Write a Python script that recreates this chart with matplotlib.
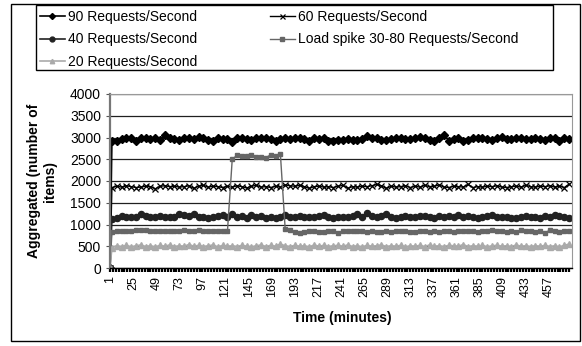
import matplotlib
matplotlib.use("Agg")
from matplotlib import pyplot as plt
from matplotlib.patches import Rectangle

plt.rcParams['font.family'] = ['Liberation Sans', 'DejaVu Sans']

# time in minutes for each sample
time_min = [1] + list(range(3, 481, 5))

req90 = [0,
         2920, 2930, 2960, 2980, 3000, 2930, 2990, 3000,
         2970, 3000, 2940, 3050, 2990, 2960, 2940, 2980,
         2990, 2970, 3020, 2980, 2940, 2920, 2990, 2970,
         2960, 2900, 3000, 2990, 2970, 2940, 2990, 3000,
         2990, 2960, 2930, 2960, 2990, 2970, 3000, 2980,
         2960, 2920, 2990, 2970, 3000, 2910, 2930, 2950,
         2940, 2960, 2950, 2950, 2970, 3030, 2990, 2980,
         2950, 2940, 2970, 2990, 2980, 2960, 2970, 2990,
         3010, 2990, 2950, 2930, 3000, 3060, 2930, 2960,
         2980, 2910, 2940, 2980, 2990, 3000, 2960, 2950,
         2990, 3010, 2960, 2970, 2990, 2980, 2960, 2960,
         2990, 2960, 2950, 3000, 2990, 2920, 2980, 2960]

req60 = [0,
         1850, 1880, 1860, 1890, 1870, 1850, 1860, 1880,
         1870, 1820, 1880, 1890, 1870, 1880, 1860, 1870,
         1890, 1830, 1880, 1900, 1860, 1880, 1870, 1850,
         1880, 1860, 1890, 1870, 1840, 1880, 1900, 1860,
         1870, 1850, 1880, 1860, 1910, 1890, 1880, 1900,
         1870, 1830, 1870, 1880, 1860, 1870, 1850, 1880,
         1900, 1830, 1870, 1860, 1880, 1870, 1890, 1920,
         1890, 1830, 1880, 1860, 1870, 1890, 1850, 1880,
         1860, 1900, 1870, 1880, 1910, 1860, 1850, 1880,
         1870, 1860, 1920, 1850, 1870, 1860, 1880, 1870,
         1890, 1860, 1850, 1870, 1880, 1860, 1900, 1870,
         1860, 1880, 1870, 1890, 1860, 1880, 1850, 1930]

req40 = [0,
         1130, 1150, 1200, 1170, 1170, 1170, 1250, 1200,
         1180, 1170, 1200, 1180, 1170, 1170, 1230, 1210,
         1200, 1240, 1180, 1170, 1160, 1180, 1190, 1210,
         1180, 1230, 1170, 1200, 1160, 1210, 1180, 1200,
         1150, 1180, 1160, 1180, 1220, 1170, 1180, 1200,
         1170, 1180, 1180, 1200, 1210, 1170, 1160, 1180,
         1170, 1180, 1200, 1230, 1180, 1260, 1190, 1180,
         1200, 1230, 1170, 1160, 1170, 1200, 1180, 1170,
         1190, 1200, 1180, 1160, 1200, 1170, 1190, 1180,
         1220, 1170, 1200, 1180, 1160, 1170, 1190, 1210,
         1180, 1170, 1180, 1160, 1150, 1170, 1200, 1180,
         1170, 1160, 1200, 1180, 1210, 1200, 1170, 1160]

spike = [0,
         820, 860, 850, 850, 860, 870, 870, 880,
         850, 850, 840, 840, 850, 860, 850, 870,
         860, 850, 870, 860, 860, 860, 860, 850,
         840, 2500, 2590, 2580, 2570, 2600, 2560, 2550,
         2540, 2600, 2570, 2630, 900, 880, 830, 810,
         820, 840, 850, 830, 820, 850, 840, 810,
         840, 860, 850, 850, 840, 820, 840, 830,
         830, 850, 830, 860, 840, 850, 830, 830,
         860, 840, 830, 850, 820, 840, 860, 830,
         850, 860, 840, 850, 830, 850, 860, 880,
         840, 850, 830, 850, 820, 880, 840, 850,
         830, 850, 810, 870, 850, 830, 860, 840]

req20 = [0,
         470, 510, 490, 520, 480, 510, 530, 490,
         510, 480, 520, 500, 530, 490, 510, 500,
         540, 500, 520, 490, 510, 530, 480, 520,
         500, 510, 490, 520, 500, 480, 510, 530,
         490, 520, 500, 550, 510, 490, 520, 500,
         510, 480, 530, 500, 520, 490, 510, 520,
         500, 530, 490, 510, 480, 520, 500, 510,
         530, 490, 510, 500, 520, 480, 510, 500,
         520, 490, 530, 500, 510, 490, 520, 510,
         500, 540, 490, 510, 500, 520, 480, 510,
         520, 500, 510, 490, 530, 500, 510, 490,
         510, 500, 520, 490, 510, 480, 520, 550]

x_labels = [1, 25, 49, 73, 97, 121, 145, 169, 193, 217, 241, 265, 289,
            313, 337, 361, 385, 409, 433, 457]

W, H = 582, 346
fig = plt.figure(figsize=(W / 100, H / 100), dpi=100)
ax = fig.add_axes([110 / W, 1 - 268 / H, (572 - 110) / W, (268 - 94) / H])

l90, = ax.plot(time_min, req90, color='black', lw=1.2, marker='D', ms=3.8,
               label='90 Requests/Second')
l60, = ax.plot(time_min, req60, color='black', lw=1.0, marker='x', ms=4.5,
               mew=0.9, label='60 Requests/Second')
l40, = ax.plot(time_min, req40, color='#222222', lw=1.2, marker='o', ms=4.4,
               label='40 Requests/Second')
lsp, = ax.plot(time_min, spike, color='#666666', lw=1.0, marker='s', ms=2.8,
               label='Load spike 30-80 Requests/Second')
l20, = ax.plot(time_min, req20, color='#aaaaaa', lw=1.2, marker='^', ms=4.0,
               label='20 Requests/Second')

ax.set_xlim(1, 481)
ax.set_ylim(0, 4000)
ax.set_yticks(range(0, 4001, 500))
ax.yaxis.grid(True, color='#202020', lw=0.9)
ax.set_axisbelow(True)

ax.set_xticks(x_labels)
ax.set_xticklabels([str(v) for v in x_labels], rotation=90, fontsize=9)
ax.set_xticks(range(1, 481, 3), minor=True)
ax.tick_params(axis='x', which='both', length=3, width=1.6, color='black',
               direction='out', pad=3)
ax.tick_params(axis='y', length=3, width=0.8, labelsize=10, color='#555555')

for side in ['top', 'right']:
    ax.spines[side].set_color('#999999')
    ax.spines[side].set_linewidth(0.8)
ax.spines['left'].set_color('#777777')
ax.spines['left'].set_linewidth(1.6)
ax.spines['bottom'].set_color('black')
ax.spines['bottom'].set_linewidth(1.0)

fig.text(42 / W, 1 - 181 / H, 'Aggregated (number of\nitems)', rotation=90,
         ha='center', va='center', fontsize=10, fontweight='bold',
         linespacing=1.1)
fig.text(342 / W, 1 - 318 / H, 'Time (minutes)', ha='center', va='center',
         fontsize=10, fontweight='bold')

handles = [l90, l40, l20, l60, lsp]
leg = fig.legend(handles, [h.get_label() for h in handles],
                 loc='upper left', ncol=2,
                 bbox_to_anchor=(37 / W, 1 - 7 / H),
                 fontsize=10, frameon=False,
                 handlelength=1.8, handletextpad=0.25, labelspacing=0.62,
                 columnspacing=5.2, borderaxespad=0, borderpad=0.2,
                 markerscale=0.8)

# legend box and outer chart border
fig.patches.append(Rectangle((36 / W, 1 - 70 / H), (553 - 36) / W, (70 - 5) / H,
                             transform=fig.transFigure, fill=False,
                             edgecolor='black', lw=1.0))
fig.patches.append(Rectangle((11 / W, 1 - 341 / H), (580 - 11) / W, (341 - 4) / H,
                             transform=fig.transFigure, fill=False,
                             edgecolor='black', lw=1.0))

fig.savefig('out.png', dpi=100)
